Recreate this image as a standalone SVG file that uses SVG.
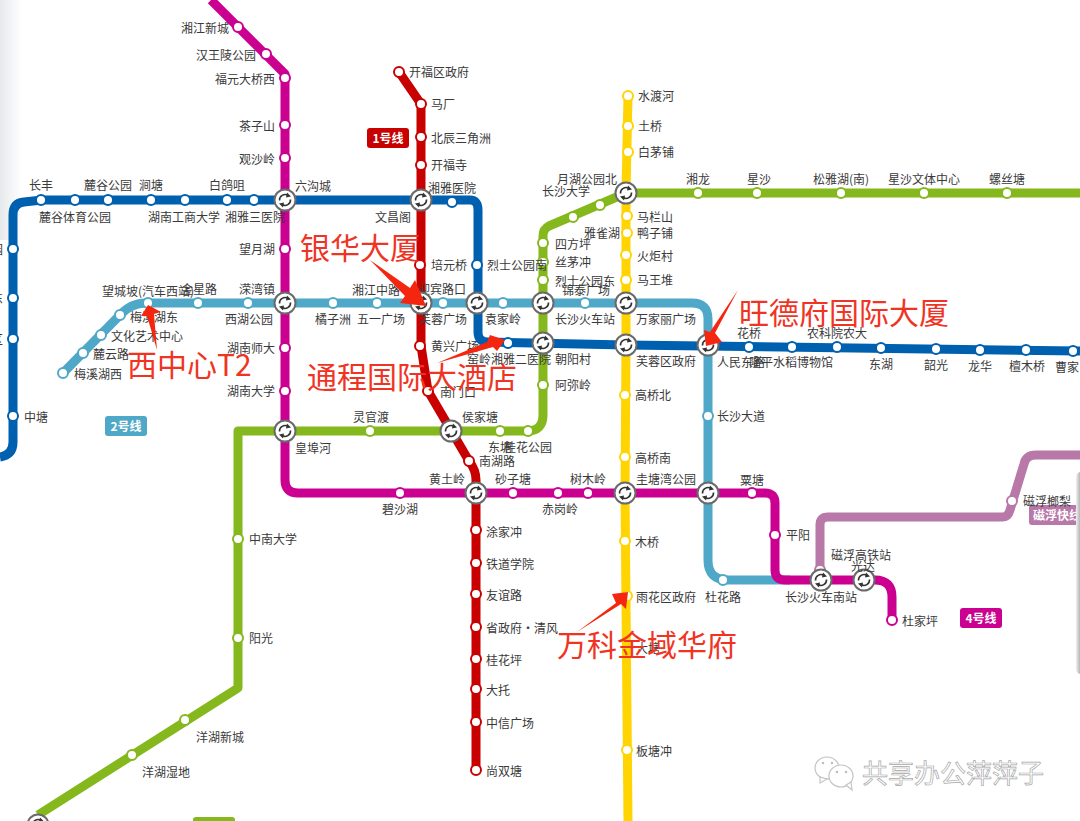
<svg xmlns="http://www.w3.org/2000/svg" width="1080" height="821" viewBox="0 0 1080 821">
<style>
text{font-family:"Noto Sans CJK SC","Noto Sans",sans-serif;font-size:12px;fill:#3a3a3a;transform:translateY(1px)}
.m{text-anchor:middle}.e{text-anchor:end}
.ln{fill:none;stroke-width:9;stroke-linejoin:round;stroke-linecap:butt}
.l1{stroke:#c80000}.l2{stroke:#50a8c8}.l3{stroke:#84b81c}.l4{stroke:#cc0090}.l5{stroke:#ffd400}.l6{stroke:#0060b0}.lm{stroke:#b878a8}
circle.s{fill:#fff;stroke-width:2;r:5px}
text.badge{font-size:12px;font-weight:700;fill:#fff;text-anchor:middle;transform:none}
text.note{font-size:30px;fill:#f03424;transform:none}
.arrow{fill:#f5260f}
text.wm{font-size:26px;fill:#fff;stroke:#a8a8a8;stroke-width:.7;transform:none}
.wi{fill:#fff;stroke:#c4c4c4;stroke-width:1.2}
</style>
<defs>
<linearGradient id="edge" x1="0" x2="1" y1="0" y2="0"><stop offset="0" stop-color="#e6e9ec"/><stop offset="1" stop-color="#fff"/></linearGradient>
<linearGradient id="panel" x1="0" x2="1" y1="0" y2="0"><stop offset="0" stop-color="#f0f0f0"/><stop offset=".4" stop-color="#b4b6b8"/><stop offset="1" stop-color="#c8c8c8"/></linearGradient>
<g id="x">
<circle r="10.5" fill="#fff" stroke="#6a6a6a" stroke-width="2"/>
<path d="M-5.5,0.5A5.5,5.5 0 0 1 3,-4.5" fill="none" stroke="#333" stroke-width="1.6"/>
<path d="M5.5,-0.5A5.5,5.5 0 0 1 -3,4.5" fill="none" stroke="#333" stroke-width="1.6"/>
<path d="M2,-7.5L6,-3.5L1,-2.5Z" fill="#333"/>
<path d="M-2,7.5L-6,3.5L-1,2.5Z" fill="#333"/>
</g>
</defs>
<rect width="1080" height="821" fill="#fff"/>
<rect x="0" y="0" width="22" height="240" fill="url(#edge)"/>

<g id="connectors">
<path class="ln lm" d="M820,580V525Q820,517 828,517H1003Q1008,517 1010,510L1024,464Q1026,455 1036,455H1080"/>
<path class="ln l3" d="M1080,193H626L549,226Q543,229 543,236V415Q543,431 527,431H238V688L38,815"/>
<path class="ln l2" d="M63,373L120,315Q131,303 146,303H692Q708,303 708,319V560Q708,580 728,580H790"/>
<path class="ln l6" d="M0,457Q13,455 13,442V215Q13,203 24,202L42,200H470Q478,200 478,210V332Q478,342 488,342L626,345L1080,351"/>
<path class="ln l5" d="M628,96L626,193V345L625,493L628,821"/>
<path class="ln l1" d="M399,72L421,104V346L428,391L469,461Q476,470 476,480V770"/>
<path class="ln l4" d="M211,0L285,74V480Q285,493 298,493H765Q775,493 775,503V570Q775,580 785,580H875Q892,580 892,597V620"/>
</g>

<g id="badges">
<g id="badge-1"><rect x="367" y="128" width="42" height="20" rx="3" fill="#c80000"/><text class="badge" x="388" y="143">1号线</text></g>
<g id="badge-2"><rect x="105" y="416" width="42" height="20" rx="3" fill="#50a8c8"/><text class="badge" x="126" y="431">2号线</text></g>
<g id="badge-4"><rect x="960" y="608" width="42" height="20" rx="3" fill="#cc0090"/><text class="badge" x="981" y="623">4号线</text></g>
<g id="badge-m"><rect x="1029" y="505" width="60" height="20" rx="3" fill="#b878a8"/><text class="badge" x="1057" y="520">磁浮快线</text></g>
<rect id="badge-3" x="193" y="817" width="42" height="12" rx="3" fill="#84b81c"/>
</g>

<g id="line-1">
<g id="s101"><circle class="s l1" cx="399" cy="72"/><text x="409" y="76">开福区政府</text></g>
<g id="s102"><circle class="s l1" cx="421" cy="104"/><text x="431" y="108">马厂</text></g>
<g id="s103"><circle class="s l1" cx="421" cy="137"/><text x="431" y="142">北辰三角洲</text></g>
<g id="s104"><circle class="s l1" cx="421" cy="165"/><text x="431" y="169">开福寺</text></g>
<g id="s105"><circle class="s l1" cx="420" cy="265"/><text x="431" y="269">培元桥</text></g>
<g id="s106"><circle class="s l1" cx="420" cy="346"/><text x="431" y="350">黄兴广场</text></g>
<g id="s107"><circle class="s l1" cx="428" cy="391"/><text x="440" y="396">南门口</text></g>
<g id="s108"><circle class="s l1" cx="469" cy="461"/><text x="479" y="465">南湖路</text></g>
<g id="s109"><circle class="s l1" cx="476" cy="530"/><text x="486" y="536">涂家冲</text></g>
<g id="s110"><circle class="s l1" cx="476" cy="563"/><text x="486" y="568">铁道学院</text></g>
<g id="s111"><circle class="s l1" cx="476" cy="594"/><text x="486" y="599">友谊路</text></g>
<g id="s112"><circle class="s l1" cx="476" cy="627"/><text x="486" y="632">省政府·清风</text></g>
<g id="s113"><circle class="s l1" cx="476" cy="659"/><text x="486" y="664">桂花坪</text></g>
<g id="s114"><circle class="s l1" cx="476" cy="689"/><text x="486" y="694">大托</text></g>
<g id="s115"><circle class="s l1" cx="476" cy="722"/><text x="486" y="727">中信广场</text></g>
<g id="s116"><circle class="s l1" cx="476" cy="770"/><text x="486" y="775">尚双塘</text></g>
</g>

<g id="line-2">
<g id="s201"><circle class="s l2" cx="63" cy="373"/><text x="74" y="378">梅溪湖西</text></g>
<g id="s202"><circle class="s l2" cx="83" cy="353"/><text x="93" y="358">麓云路</text></g>
<g id="s203"><circle class="s l2" cx="101" cy="335"/><text x="111" y="340">文化艺术中心</text></g>
<g id="s204"><circle class="s l2" cx="120" cy="315"/><text x="102" y="295">望城坡(汽车西站)</text></g>
<g id="s205"><circle class="s l2" cx="148" cy="303"/><text x="130" y="321">梅溪湖东</text></g>
<g id="s206"><circle class="s l2" cx="198" cy="303"/><text class="e" x="217" y="293">金星路</text></g>
<g id="s207"><circle class="s l2" cx="248" cy="303"/><text class="m" x="257" y="293">溁湾镇</text><text class="m" x="249" y="323">西湖公园</text></g>
<g id="s208"><circle class="s l2" cx="333" cy="303"/><text class="m" x="333" y="323">橘子洲</text></g>
<g id="s209"><circle class="s l2" cx="377" cy="303"/><text class="m" x="376" y="294">湘江中路</text><text class="m" x="381" y="323">五一广场</text></g>
<g id="s210"><circle class="s l2" cx="443" cy="303"/><text x="418" y="293">迎宾路口</text><text class="m" x="443" y="323">芙蓉广场</text></g>
<g id="s211"><circle class="s l2" cx="503" cy="303"/><text class="m" x="503" y="323">袁家岭</text></g>
<g id="s212"><circle class="s l2" cx="585" cy="303"/><text x="562" y="294">锦泰广场</text><text x="555" y="323">长沙火车站</text></g>
<g id="s213"><circle class="s l2" cx="708" cy="416"/><text x="717" y="420">长沙大道</text></g>
<g id="s214"><circle class="s l2" cx="723" cy="580"/><text class="m" x="723" y="601">杜花路</text></g>
</g>

<g id="line-3">
<g id="s301"><circle class="s l3" cx="698" cy="193"/><text class="m" x="698" y="183">湘龙</text></g>
<g id="s302"><circle class="s l3" cx="757" cy="193"/><text class="m" x="759" y="183">星沙</text></g>
<g id="s303"><circle class="s l3" cx="841" cy="193"/><text class="m" x="841" y="183">松雅湖(南)</text></g>
<g id="s304"><circle class="s l3" cx="924" cy="193"/><text class="m" x="924" y="183">星沙文体中心</text></g>
<g id="s305"><circle class="s l3" cx="1007" cy="193"/><text class="m" x="1007" y="183">螺丝塘</text></g>
<g id="s306"><circle class="s l3" cx="600" cy="205"/></g>
<g id="s307"><circle class="s l3" cx="573" cy="217"/><text class="e" x="590" y="195">长沙大学</text></g>
<g id="s308"><circle class="s l3" cx="543" cy="243"/><text x="555" y="248">四方坪</text></g>
<g id="s309"><circle class="s l3" cx="543" cy="262"/><text x="555" y="266">丝茅冲</text></g>
<g id="s310"><circle class="s l3" cx="543" cy="280"/><text x="555" y="285">烈士公园东</text></g>
<g id="s311"><circle class="s l3" cx="543" cy="385"/><text x="555" y="389">阿弥岭</text></g>
<g id="s312"><circle class="s l3" cx="528" cy="431"/><text class="e" x="552" y="451">桂花公园</text></g>
<g id="s313"><circle class="s l3" cx="500" cy="431"/><text x="488" y="451">东塘</text></g>
<g id="s314"><circle class="s l3" cx="370" cy="431"/><text class="m" x="371" y="421">灵官渡</text></g>
<g id="s315"><circle class="s l3" cx="238" cy="539"/><text x="249" y="543">中南大学</text></g>
<g id="s316"><circle class="s l3" cx="238" cy="638"/><text x="249" y="642">阳光</text></g>
<g id="s317"><circle class="s l3" cx="185" cy="720"/><text x="196" y="741">洋湖新城</text></g>
<g id="s318"><circle class="s l3" cx="132" cy="755"/><text x="142" y="776">洋湖湿地</text></g>
</g>

<g id="line-4">
<g id="s401"><circle class="s l4" cx="238" cy="27"/><text class="e" x="229" y="32">湘江新城</text></g>
<g id="s402"><circle class="s l4" cx="266" cy="54"/><text class="e" x="256" y="59">汉王陵公园</text></g>
<g id="s403"><circle class="s l4" cx="285" cy="78"/><text class="e" x="275" y="83">福元大桥西</text></g>
<g id="s404"><circle class="s l4" cx="285" cy="125"/><text class="e" x="275" y="130">茶子山</text></g>
<g id="s405"><circle class="s l4" cx="285" cy="158"/><text class="e" x="275" y="163">观沙岭</text></g>
<g id="s406"><circle class="s l4" cx="285" cy="249"/><text class="e" x="275" y="253">望月湖</text></g>
<g id="s407"><circle class="s l4" cx="285" cy="348"/><text class="e" x="275" y="352">湖南师大</text></g>
<g id="s408"><circle class="s l4" cx="285" cy="391"/><text class="e" x="275" y="395">湖南大学</text></g>
<g id="s409"><circle class="s l4" cx="400" cy="493"/><text class="m" x="400" y="513">碧沙湖</text></g>
<g id="s410"><circle class="s l4" cx="513" cy="493"/><text class="m" x="513" y="483">砂子塘</text></g>
<g id="s411"><circle class="s l4" cx="558" cy="493"/><text class="m" x="560" y="513">赤岗岭</text></g>
<g id="s412"><circle class="s l4" cx="588" cy="493"/><text class="m" x="588" y="483">树木岭</text></g>
<g id="s413"><circle class="s l4" cx="752" cy="493"/><text class="m" x="752" y="484">粟塘</text></g>
<g id="s414"><circle class="s l4" cx="775" cy="535"/><text x="786" y="539">平阳</text></g>
<g id="s415"><circle class="s l4" cx="892" cy="620"/><text x="902" y="625">杜家坪</text></g>
</g>

<g id="line-5">
<g id="s501"><circle class="s l5" cx="628" cy="96"/><text x="638" y="100">水渡河</text></g>
<g id="s502"><circle class="s l5" cx="628" cy="126"/><text x="638" y="130">土桥</text></g>
<g id="s503"><circle class="s l5" cx="628" cy="152"/><text x="638" y="156">白茅铺</text></g>
<g id="s504"><circle class="s l5" cx="627" cy="216"/><text x="637" y="221">马栏山</text></g>
<g id="s505"><circle class="s l5" cx="627" cy="233"/><text x="637" y="237">鸭子铺</text><text class="e" x="620" y="237">雅雀湖</text></g>
<g id="s506"><circle class="s l5" cx="626" cy="255"/><text x="637" y="260">火炬村</text></g>
<g id="s507"><circle class="s l5" cx="626" cy="280"/><text x="637" y="284">马王堆</text></g>
<g id="s508"><circle class="s l5" cx="625" cy="395"/><text x="635" y="399">高桥北</text></g>
<g id="s509"><circle class="s l5" cx="625" cy="457"/><text x="635" y="462">高桥南</text></g>
<g id="s510"><circle class="s l5" cx="625" cy="541"/><text x="635" y="546">木桥</text></g>
<g id="s511"><circle class="s l5" cx="627" cy="596"/><text x="636" y="601">雨花区政府</text></g>
<g id="s512"><text x="636" y="652">大塘</text></g>
<g id="s513"><circle class="s l5" cx="627" cy="750"/><text x="636" y="755">板塘冲</text></g>
</g>

<g id="line-6">
<g id="s601"><circle class="s l6" cx="41" cy="200"/><text class="m" x="41" y="189">长丰</text></g>
<g id="s602"><circle class="s l6" cx="75" cy="200"/><text class="m" x="75" y="221">麓谷体育公园</text></g>
<g id="s603"><circle class="s l6" cx="108" cy="200"/><text class="m" x="108" y="189">麓谷公园</text></g>
<g id="s604"><circle class="s l6" cx="151" cy="200"/><text class="m" x="151" y="189">涧塘</text></g>
<g id="s605"><circle class="s l6" cx="185" cy="200"/><text class="m" x="184" y="221">湖南工商大学</text></g>
<g id="s606"><circle class="s l6" cx="227" cy="200"/><text class="m" x="227" y="189">白鸽咀</text></g>
<g id="s607"><circle class="s l6" cx="254" cy="200"/><text class="m" x="255" y="221">湘雅三医院</text></g>
<g id="s608"><circle class="s l6" cx="13" cy="249"/><text class="e" x="3" y="253">园</text></g>
<g id="s609"><circle class="s l6" cx="13" cy="298"/><text class="e" x="3" y="302">东</text></g>
<g id="s610"><circle class="s l6" cx="13" cy="339"/><text class="e" x="3" y="343">区</text></g>
<g id="s611"><circle class="s l6" cx="13" cy="416"/><text x="24" y="421">中塘</text></g>
<g id="s612"><circle class="s l6" cx="452" cy="202"/></g>
<g id="s613"><circle class="s l6" cx="477" cy="265"/><text x="487" y="269">烈士公园南</text></g>
<g id="s614"><circle class="s l6" cx="508" cy="343"/><text x="467" y="363">窑岭湘雅二医院</text></g>
<g id="s615"><circle class="s l6" cx="749" cy="347"/><text class="m" x="749" y="337">花桥</text></g>
<g id="s616"><circle class="s l6" cx="792" cy="347"/><text x="749" y="366">隆平水稻博物馆</text></g>
<g id="s617"><circle class="s l6" cx="837" cy="347"/><text x="807" y="337">农科院农大</text></g>
<g id="s618"><circle class="s l6" cx="881" cy="348"/><text class="m" x="881" y="368">东湖</text></g>
<g id="s619"><circle class="s l6" cx="936" cy="349"/><text class="m" x="936" y="369">韶光</text></g>
<g id="s620"><circle class="s l6" cx="980" cy="350"/><text class="m" x="980" y="370">龙华</text></g>
<g id="s621"><circle class="s l6" cx="1026" cy="350"/><text class="m" x="1027" y="370">檀木桥</text></g>
<g id="s622"><circle class="s l6" cx="1073" cy="351"/><text x="1055" y="371">曹家</text></g>
</g>

<g id="line-m">
<g id="s701"><circle class="s lm" cx="820" cy="570"/><text x="831" y="559">磁浮高铁站</text></g>
<g id="s702"><circle class="s lm" cx="1012" cy="501"/><text x="1023" y="505">磁浮榔梨</text></g>
</g>

<g id="interchanges">
<g id="i01"><use href="#x" x="285" y="200"/><text x="295" y="190">六沟城</text></g>
<g id="i02"><use href="#x" x="421" y="200"/><text x="428" y="192">湘雅医院</text><text class="e" x="411" y="221">文昌阁</text></g>
<g id="i03"><use href="#x" x="626" y="193"/><text class="e" x="617" y="183">月湖公园北</text></g>
<g id="i04"><use href="#x" x="285" y="303"/></g>
<g id="i05"><use href="#x" x="421" y="303"/></g>
<g id="i06"><use href="#x" x="477" y="303"/></g>
<g id="i07"><use href="#x" x="543" y="303"/></g>
<g id="i08"><use href="#x" x="626" y="303"/><text x="636" y="323">万家丽广场</text></g>
<g id="i09"><use href="#x" x="543" y="343"/><text x="555" y="363">朝阳村</text></g>
<g id="i10"><use href="#x" x="626" y="345"/><text x="636" y="365">芙蓉区政府</text></g>
<g id="i11"><use href="#x" x="708" y="345"/><text x="717" y="366">人民东路</text></g>
<g id="i12"><use href="#x" x="285" y="431"/><text x="295" y="452">皇埠河</text></g>
<g id="i13"><use href="#x" x="451" y="431"/><text class="m" x="480" y="421">侯家塘</text></g>
<g id="i14"><use href="#x" x="476" y="493"/><text class="m" x="447" y="483">黄土岭</text></g>
<g id="i15"><use href="#x" x="625" y="493"/><text x="636" y="483">圭塘湾公园</text></g>
<g id="i16"><use href="#x" x="708" y="493"/></g>
<g id="i17"><use href="#x" x="821" y="580"/><text class="m" x="821" y="601">长沙火车南站</text></g>
<g id="i18"><use href="#x" x="864" y="580"/><text class="m" x="863" y="570">光达</text></g>
<g id="i19"><use href="#x" x="38" y="825"/></g>
</g>

<rect id="panel-edge" x="1076" y="472" width="10" height="202" rx="5" fill="url(#panel)"/>

<g id="annotations">
<polygon class="arrow" points="370,260 410,288 415,280 426,306 400,303 405,296"/>
<text class="note" x="300" y="259">银华大厦</text>
<polygon class="arrow" points="437,363 487,342 490,335 505,340 497,351 493,347"/>
<text class="note" x="307" y="388">通程国际大酒店</text>
<polygon class="arrow" points="738,290 715,333 722,342 706,346 704,330 710,332"/>
<text class="note" x="739" y="324">旺德府国际大厦</text>
<polygon class="arrow" points="577,632 616,603 612,594 628,592 626,609 621,604"/>
<text class="note" x="557" y="656">万科金域华府</text>
<polygon class="arrow" points="157,350 147,316 141,316 148,305 161,312 154,314"/>
<text class="note" x="127" y="376">西中心T2</text>
</g>

<g id="watermark">
<ellipse class="wi" cx="827" cy="768" rx="12" ry="11"/>
<path class="wi" d="M820,777L820,783L827,779Z"/>
<ellipse class="wi" cx="841" cy="776" rx="12" ry="11"/>
<path class="wi" d="M846,785L852,790L851,782Z"/>
<circle cx="823" cy="763" r="1.2" fill="#bbb"/><circle cx="832" cy="763" r="1.2" fill="#bbb"/>
<circle cx="837" cy="772" r="1.2" fill="#bbb"/><circle cx="846" cy="772" r="1.2" fill="#bbb"/>
<text class="wm" x="862" y="783">共享办公萍萍子</text>
</g>
</svg>
